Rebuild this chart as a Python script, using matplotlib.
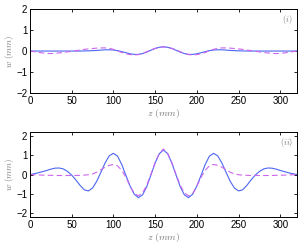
import numpy as np
import matplotlib
matplotlib.use("Agg")
import matplotlib.pyplot as plt

plt.rcParams['font.family'] = ['Liberation Sans', 'DejaVu Sans']
plt.rcParams['mathtext.fontset'] = 'cm'

# z positions (mm), left half 0..160, mirrored for the right half
z_half = [0, 5, 10, 15, 20, 25, 30, 35, 40, 45, 50, 55, 60, 65, 70, 75, 80,
          85, 90, 95, 100, 105, 110, 115, 120, 125, 130, 135, 140, 145, 150, 155, 160]

# panel (i)
w1_solid = [0, 0, 0, 0, 0, 0, 0, 0, 0, 0, 0, 0, 0.0, 0.005, 0.01, 0.02, 0.03,
            0.045, 0.06, 0.06, 0.05, 0.02, -0.03, -0.08, -0.13, -0.16, -0.16, -0.12, -0.05,
            0.04, 0.12, 0.18, 0.20]
w1_dash = [0.0, -0.03, -0.06, -0.09, -0.11, -0.12, -0.11, -0.09, -0.07, -0.04, -0.01,
           0.02, 0.05, 0.08, 0.10, 0.12, 0.14, 0.15, 0.15, 0.13, 0.08, 0.01, -0.07,
           -0.13, -0.17, -0.19, -0.17, -0.11, -0.03, 0.06, 0.13, 0.18, 0.20]

# panel (ii)
w2_solid = [0.00, 0.04, 0.09, 0.15, 0.21, 0.28, 0.33, 0.34, 0.29, 0.16, -0.03,
            -0.28, -0.56, -0.79, -0.85, -0.70, -0.35, 0.12, 0.60, 0.97, 1.10, 0.95,
            0.52, -0.05, -0.60, -1.02, -1.20, -1.05, -0.62, -0.02, 0.60, 1.08, 1.27]
w2_dash = [0.0, -0.01, -0.02, -0.03, -0.04, -0.04, -0.05, -0.05, -0.05, -0.05, -0.05,
           -0.05, -0.04, -0.03, -0.01, 0.03, 0.12, 0.25, 0.38, 0.48, 0.52, 0.45, 0.22,
           -0.15, -0.60, -0.98, -1.10, -0.95, -0.55, 0.02, 0.62, 1.10, 1.32]


def full(half):
    h = list(half)
    return h + h[-2::-1]


z = np.array(z_half + [320 - v for v in z_half[-2::-1]])

blue = '#4c66f2'
mag = '#cc66ee'
grey = '#777777'

fig = plt.figure(figsize=(3.02, 2.46), dpi=100)
ax1 = fig.add_axes([0.0993, 0.622, 0.884, 0.341])
ax2 = fig.add_axes([0.0993, 0.118, 0.884, 0.345])

panels = [(ax1, w1_solid, w1_dash, 2.0, 'i'),
          (ax2, w2_solid, w2_dash, 2.2, 'ii')]
for ax, ws, wd, lim, tag in panels:
    ax.plot(z, full(ws), color=blue, lw=0.8)
    ax.plot(z, full(wd), color=mag, lw=0.8, ls=(0, (5, 3)))
    ax.set_xlim(0, 320)
    ax.set_ylim(-lim, lim)
    ax.set_xticks([0, 50, 100, 150, 200, 250, 300])
    ax.set_yticks([-2, -1, 0, 1, 2])
    ax.tick_params(direction='in', labelsize=7, length=2.5, width=0.6,
                   top=True, right=True, pad=2)
    for s in ax.spines.values():
        s.set_linewidth(0.7)
    ax.set_xlabel(r'$z\ (mm)$', fontsize=7, color=grey, labelpad=1)
    ax.set_ylabel(r'$w\ (mm)$', fontsize=6.5, color=grey, labelpad=0)
    ax.text(0.985, 0.95, r'$(' + tag + ')$', transform=ax.transAxes,
            ha='right', va='top', fontsize=6, color=grey)

fig.savefig('out.png', dpi=100)
